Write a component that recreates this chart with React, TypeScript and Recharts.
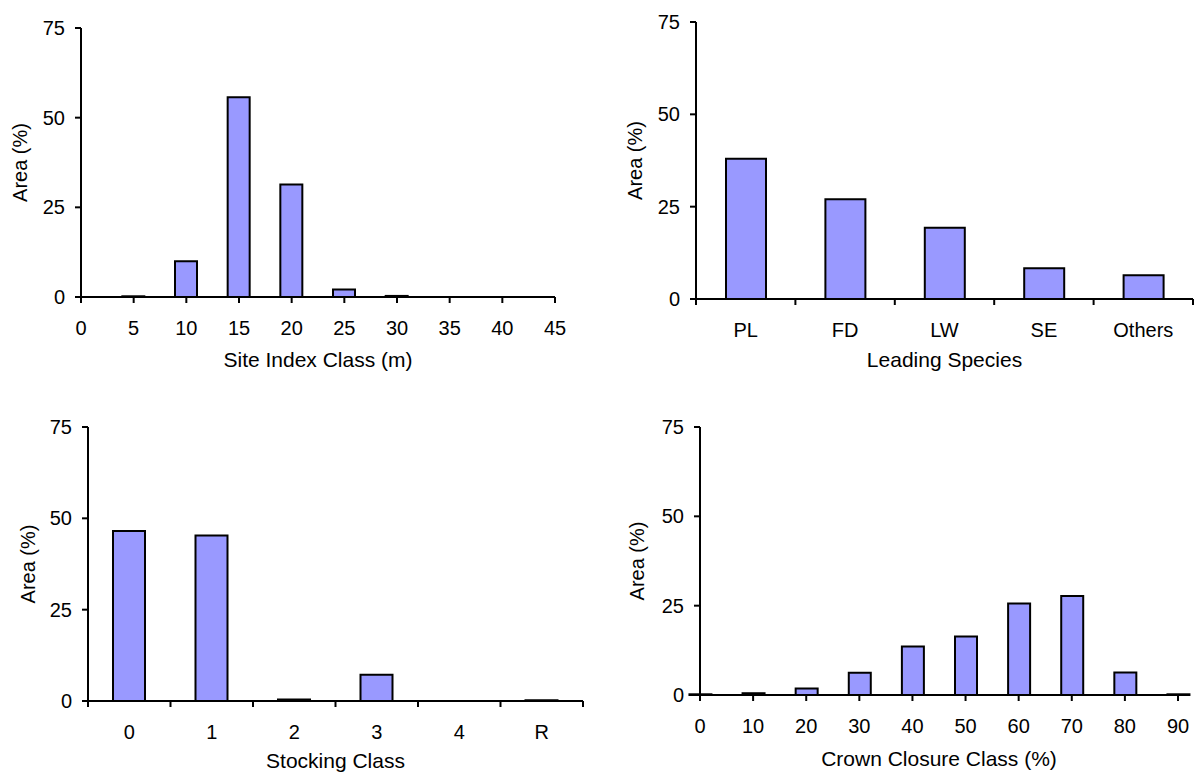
import React from 'react';
import { BarChart, Bar, XAxis, YAxis } from 'recharts';

// Site index class (m) -> area (%)
const siteIndexClasses = [5, 10, 15, 20, 25, 30, 35, 40];
const siteIndexArea = [0.2, 10.0, 55.7, 31.4, 2.1, 0.3, 0, 0];
const siteIndexTicks = [0, 5, 10, 15, 20, 25, 30, 35, 40, 45];

// leading species -> area (%)
const species = ['PL', 'FD', 'LW', 'SE', 'Others'];
const speciesArea = [38.0, 27.0, 19.3, 8.3, 6.4];

// stocking class -> area (%)
const stockingClasses = ['0', '1', '2', '3', '4', 'R'];
const stockingArea = [46.5, 45.3, 0.4, 7.2, 0, 0.2];

// crown closure class (%) -> area (%)
const crownClasses = [0, 10, 20, 30, 40, 50, 60, 70, 80, 90];
const crownArea = [0.2, 0.5, 1.8, 6.2, 13.6, 16.4, 25.6, 27.7, 6.3, 0.2];
const crownTicks = [0, 10, 20, 30, 40, 50, 60, 70, 80, 90];

const areaTicks = [0, 25, 50, 75];

const siteData = siteIndexClasses.map((x, i) => ({ x, area: siteIndexArea[i] }));
const speciesData = species.map((name, i) => ({ name, area: speciesArea[i] }));
const stockingData = stockingClasses.map((name, i) => ({ name, area: stockingArea[i] }));
const crownData = crownClasses.map((x, i) => ({ x, area: crownArea[i] }));

const FONT = 20;
const TITLE_FONT = 21;
const TICK_SIZE = 6;
const TICK_MARGIN = 18;
const BAR_FILL = '#9999FF';
const line = { stroke: '#000', strokeWidth: 2 };

// category ticks: label in the middle of the band, tick marks on the band edges
function BandTick(props: any) {
  const { x, y, payload, index, visibleTicksCount, width } = props;
  const half =
    payload && payload.offset > 2 ? payload.offset : width / visibleTicksCount / 2;
  const axisY = y - TICK_MARGIN - TICK_SIZE;
  return (
    <g>
      <line x1={x - half} x2={x - half} y1={axisY} y2={axisY + TICK_SIZE} {...line} />
      {index === visibleTicksCount - 1 && (
        <line x1={x + half} x2={x + half} y1={axisY} y2={axisY + TICK_SIZE} {...line} />
      )}
      <text x={x} y={y} dy="0.71em" textAnchor="middle" fontSize={FONT} fill="#000">
        {payload.value}
      </text>
    </g>
  );
}

const renderYAxis = (width: number, labelOffset: number) => (
  <YAxis
    type="number"
    domain={[0, 75]}
    ticks={areaTicks}
    interval={0}
    width={width}
    axisLine={line}
    tickLine={line}
    tickSize={TICK_SIZE}
    tickMargin={10}
    tick={{ fill: '#000', fontSize: FONT }}
    label={{
      value: 'Area (%)',
      angle: -90,
      position: 'insideLeft',
      offset: labelOffset,
      fill: '#000',
      fontSize: FONT,
      style: { textAnchor: 'middle', fontSize: FONT },
    }}
  />
);

const xLabel = (value: string, offset: number) => ({
  value,
  position: 'insideBottom' as const,
  offset,
  fill: '#000',
  fontSize: TITLE_FONT,
  style: { fontSize: TITLE_FONT },
});

const box = (left: number, top: number): React.CSSProperties => ({
  position: 'absolute',
  left,
  top,
});

export default function App() {
  return (
    <div
      style={{
        position: 'absolute',
        left: 0,
        top: 0,
        width: 1196,
        height: 772,
        background: '#fff',
        fontFamily: '"Liberation Sans", Arial, sans-serif',
      }}
    >
      <div style={box(0, 0)}>
        <BarChart width={600} height={380} data={siteData} margin={{ top: 28, right: 45, bottom: 0, left: 0 }}>
          <XAxis
            type="number"
            dataKey="x"
            domain={[0, 45]}
            ticks={siteIndexTicks}
            interval={0}
            height={83}
            axisLine={line}
            tickLine={line}
            tickSize={TICK_SIZE}
            tickMargin={TICK_MARGIN}
            tick={{ fill: '#000', fontSize: FONT }}
            label={xLabel('Site Index Class (m)', 13)}
          />
          {renderYAxis(81, 20)}
          <Bar dataKey="area" fill={BAR_FILL} stroke="#000" strokeWidth={2} barSize={22} isAnimationActive={false} />
        </BarChart>
      </div>

      <div style={box(600, 0)}>
        <BarChart width={596} height={380} data={speciesData} margin={{ top: 22, right: 3, bottom: 0, left: 0 }}>
          <XAxis
            dataKey="name"
            interval={0}
            height={81}
            axisLine={line}
            tickLine={false}
            tickSize={TICK_SIZE}
            tickMargin={TICK_MARGIN}
            tick={<BandTick />}
            label={xLabel('Leading Species', 13)}
          />
          {renderYAxis(96, 35)}
          <Bar dataKey="area" fill={BAR_FILL} stroke="#000" strokeWidth={2} barSize={40} isAnimationActive={false} />
        </BarChart>
      </div>

      <div style={box(0, 380)}>
        <BarChart width={600} height={392} data={stockingData} margin={{ top: 47, right: 17, bottom: 0, left: 0 }}>
          <XAxis
            dataKey="name"
            interval={0}
            height={71}
            axisLine={line}
            tickLine={false}
            tickSize={TICK_SIZE}
            tickMargin={TICK_MARGIN}
            tick={<BandTick />}
            label={xLabel('Stocking Class', 4)}
          />
          {renderYAxis(88, 28)}
          <Bar dataKey="area" fill={BAR_FILL} stroke="#000" strokeWidth={2} barSize={32} isAnimationActive={false} />
        </BarChart>
      </div>

      <div style={box(600, 380)}>
        <BarChart width={596} height={392} data={crownData} margin={{ top: 47, right: 18, bottom: 0, left: 0 }}>
          <XAxis
            type="number"
            dataKey="x"
            domain={[0, 90]}
            ticks={crownTicks}
            interval={0}
            height={77}
            axisLine={line}
            tickLine={line}
            tickSize={TICK_SIZE}
            tickMargin={TICK_MARGIN}
            tick={{ fill: '#000', fontSize: FONT }}
            label={xLabel('Crown Closure Class (%)', 6)}
          />
          {renderYAxis(100, 37)}
          <Bar dataKey="area" fill={BAR_FILL} stroke="#000" strokeWidth={2} barSize={22} isAnimationActive={false} />
        </BarChart>
      </div>
    </div>
  );
}
